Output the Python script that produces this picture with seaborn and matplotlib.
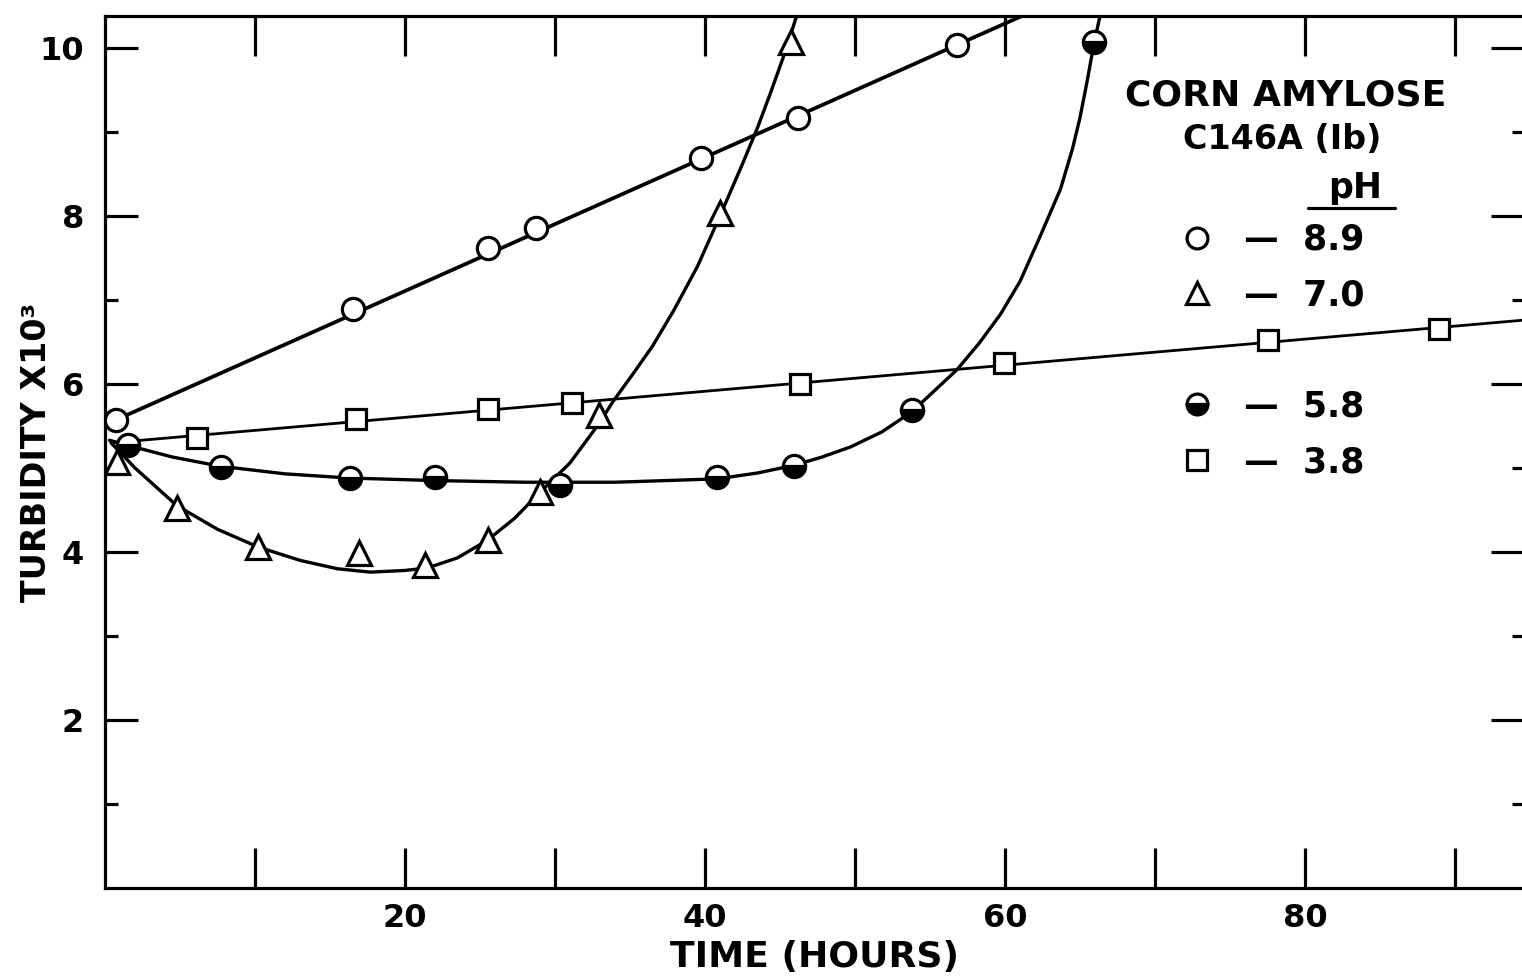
import matplotlib
matplotlib.use("Agg")
import matplotlib.pyplot as plt
from matplotlib.lines import Line2D
import seaborn as sns

time_89 = [0.7, 16.5, 25.5, 28.7, 39.7, 46.2, 56.8]
turb_89 = [5.57, 6.89, 7.62, 7.86, 8.69, 9.17, 10.03]

time_70 = [0.8, 4.8, 10.2, 16.9, 21.3, 25.5, 29.0, 32.9, 41.0, 45.7]
turb_70 = [5.07, 4.52, 4.06, 3.99, 3.85, 4.14, 4.71, 5.63, 8.04, 10.07]

time_58 = [1.5, 7.7, 16.3, 22.0, 30.3, 40.8, 45.9, 53.8, 65.9]
turb_58 = [5.27, 5.01, 4.88, 4.89, 4.80, 4.89, 5.02, 5.69, 10.07]

time_38 = [6.1, 16.7, 25.5, 31.1, 46.3, 59.9, 77.5, 88.9]
turb_38 = [5.36, 5.58, 5.70, 5.77, 6.00, 6.25, 6.52, 6.65]

# Hand-drawn lines through the points
line_89_t = [0.7, 61.5]
line_89_y = [5.57, 10.41]

line_38_t = [0.5, 94.6]
line_38_y = [5.30, 6.76]

curve_70_t = [0.4, 2.0, 4.8, 7.5, 10.2, 13.0, 15.5, 17.7, 20.0, 21.5, 23.5,
              25.5, 27.3, 29.0, 31.0, 32.9, 33.9, 35.2, 36.5, 37.9, 39.5,
              41.0, 42.5, 43.5, 44.4, 45.2, 46.0, 46.2]
curve_70_y = [5.30, 5.00, 4.55, 4.27, 4.06, 3.90, 3.80, 3.76, 3.78, 3.81, 3.93,
              4.14, 4.40, 4.71, 5.06, 5.52, 5.80, 6.12, 6.45, 6.87, 7.40,
              8.00, 8.62, 9.05, 9.48, 9.88, 10.32, 10.43]

curve_58_t = [0.3, 1.5, 4.5, 7.7, 12.0, 16.3, 22.0, 28.0, 34.0, 40.8, 43.5,
              45.9, 47.8, 49.7, 51.8, 53.8, 55.3, 56.8, 58.3, 59.7, 61.0,
              62.3, 63.7, 64.5, 65.0, 65.45, 65.9, 66.4]
curve_58_y = [5.33, 5.27, 5.13, 5.02, 4.93, 4.88, 4.85, 4.83, 4.83, 4.87, 4.94,
              5.03, 5.13, 5.25, 5.43, 5.67, 5.92, 6.17, 6.49, 6.83, 7.22,
              7.74, 8.32, 8.80, 9.17, 9.58, 10.02, 10.44]

ph_labels = ["8.9", "7.0", "5.8", "3.8"]

x_ticks = [10, 20, 30, 40, 50, 60, 70, 80, 90]
x_ticklabels = ["", "20", "", "40", "", "60", "", "80", ""]
y_ticks = [2, 4, 6, 8, 10]
y_minor = [1, 3, 5, 7, 9]

sns.set_style("ticks")
plt.rcParams["font.family"] = ["DejaVu Sans"]
plt.rcParams["font.weight"] = "bold"
plt.rcParams["text.color"] = "black"
plt.rcParams["axes.labelcolor"] = "black"
plt.rcParams["xtick.color"] = "black"
plt.rcParams["ytick.color"] = "black"

W, H = 1522, 977
fig = plt.figure(figsize=(W / 100, H / 100), dpi=100)
fig.patch.set_facecolor("white")
# axes frame: left spine at x=105 px, bottom at y=888 px, top at y=16 px
ax = fig.add_axes([105 / W, (H - 888) / H, 1419 / W, 872 / H])
ax.set_facecolor("white")

LW = 2.3
mk_open = dict(mfc="white", mec="black", mew=LW, ls="none", color="black")

# drawn lines / curves
sns.lineplot(x=line_89_t, y=line_89_y, ax=ax, color="black", lw=2.7, zorder=2)
sns.lineplot(x=line_38_t, y=line_38_y, ax=ax, color="black", lw=2.0, zorder=2)
sns.lineplot(x=curve_70_t, y=curve_70_y, ax=ax, color="black", lw=2.4,
             sort=False, zorder=2)
sns.lineplot(x=curve_58_t, y=curve_58_y, ax=ax, color="black", lw=2.4,
             sort=False, zorder=2)

# measured points
sns.lineplot(x=time_89, y=turb_89, ax=ax, marker="o", ms=16, zorder=3, **mk_open)
sns.lineplot(x=time_70, y=turb_70, ax=ax, marker="^", ms=17, zorder=3, **mk_open)
sns.lineplot(x=time_38, y=turb_38, ax=ax, marker="s", ms=15, zorder=3, **mk_open)
sns.lineplot(x=time_58, y=turb_58, ax=ax, marker="o", ms=16, fillstyle="bottom",
             mfc="black", markerfacecoloralt="white", mec="black", mew=LW,
             ls="none", color="black", zorder=3)

ax.set_xlim(0, 94.6)
ax.set_ylim(0, 10.38)

ax.set_xticks(x_ticks)
ax.set_xticklabels(x_ticklabels)
ax.set_yticks(y_ticks)
ax.set_yticks(y_minor, minor=True)
ax.tick_params(axis="x", which="major", direction="in", length=29, width=LW,
               top=True, bottom=True, labelsize=23, pad=11)
ax.tick_params(axis="y", which="major", direction="in", length=24, width=LW,
               left=True, right=True, labelsize=23, pad=15)
ax.tick_params(axis="y", which="minor", direction="in", length=9, width=LW,
               left=True, right=True)
ax.tick_params(axis="x", which="minor", bottom=False, top=False)

for side in ["left", "bottom", "top"]:
    ax.spines[side].set_linewidth(LW)
    ax.spines[side].set_color("black")
ax.spines["right"].set_visible(False)

ax.set_xlabel("TIME (HOURS)", fontsize=26, fontweight="bold")
ax.set_ylabel("TURBIDITY X10³", fontsize=24, fontweight="bold")
ax.xaxis.set_label_coords(0.5, (888 - 940) / 872)
ax.yaxis.set_label_coords((53 - 105) / 1419, 0.5)


def px(xp, yp):
    # pixel position in the picture -> data coordinates
    return (xp - 105) / 15, (888 - yp) / 84


ax.text(*px(1286, 96), "CORN AMYLOSE", fontsize=26, ha="center", va="center")
ax.text(*px(1282, 140), "C146A (Ib)", fontsize=24, ha="center", va="center")
ax.text(*px(1355, 188), "pH", fontsize=25, ha="center", va="center")
ux0, uy = px(1308, 208)
ux1, _ = px(1395, 208)
ax.plot([ux0, ux1], [uy, uy], color="black", lw=LW, clip_on=False)

handles = [
    Line2D([], [], marker="o", ms=15, **mk_open),
    Line2D([], [], marker="^", ms=16, **mk_open),
    Line2D([], [], ls="none"),
    Line2D([], [], marker="o", ms=15, fillstyle="bottom", mfc="black",
           markerfacecoloralt="white", mec="black", mew=LW, ls="none"),
    Line2D([], [], marker="s", ms=14, **mk_open),
]
labels = ["—  " + ph_labels[0], "—  " + ph_labels[1], " ",
          "—  " + ph_labels[2], "—  " + ph_labels[3]]
leg = ax.legend(handles, labels, loc="upper left", frameon=False,
                fontsize=25, handlelength=1.0, handletextpad=0.85,
                labelspacing=0.62, borderpad=0, borderaxespad=0)
leg.set_bbox_to_anchor((1180 / W, (H - 223) / H), transform=fig.transFigure)

fig.savefig("out.png", dpi=100, facecolor="white")
